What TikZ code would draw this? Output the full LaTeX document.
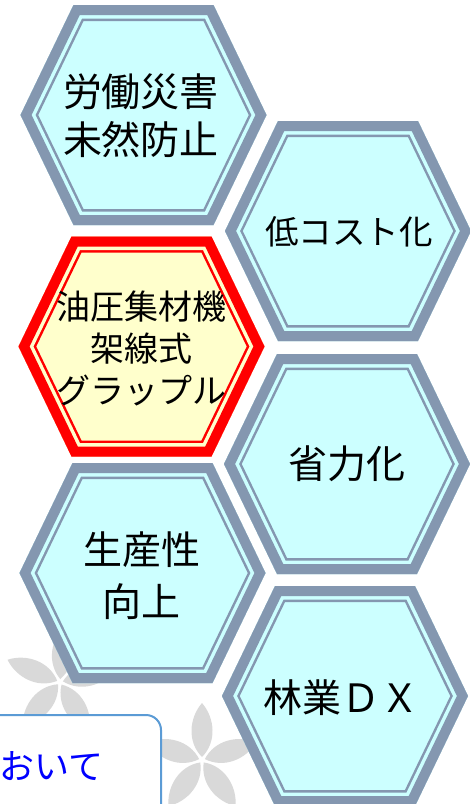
\documentclass[tikz,border=0pt]{standalone}
\usepackage{fontspec}
\newfontfamily\jp{Noto Sans CJK JP}
\definecolor{hexgray}{HTML}{8497B0}
\definecolor{hexcyan}{HTML}{CCFFFF}
\definecolor{hexred}{HTML}{FF0000}
\definecolor{hexyellow}{HTML}{FFFFCC}
\definecolor{flowergray}{HTML}{D9D9D9}
\definecolor{boxblue}{HTML}{5B9BD5}
\definecolor{textblue}{HTML}{0000FF}
\def\hexshape{(-123,0) -- (-70,-110) -- (70,-110) -- (123,0) -- (70,110) -- (-70,110) -- cycle}
\def\petalshape{(0,-3) .. controls (15,-18) and (13,-42) .. (0,-57) .. controls (-13,-42) and (-15,-18) .. (0,-3) -- cycle}
\newcommand\hexdraw[4]{% cx, cy, band colour, fill colour
  \begin{scope}[shift={(#1,#2)}]
    \begin{scope}
      \clip \hexshape;
      \fill[#4] \hexshape;
      \draw[#3, line width=32pt, line join=miter] \hexshape;
      \draw[#4, line width=27pt, line join=miter] \hexshape;
      \draw[#3, line width=20pt, line join=miter] \hexshape;
    \end{scope}
  \end{scope}}
\newcommand\flowerdraw[3]{% cx, cy, rotation
  \begin{scope}[shift={(#1,#2)}, rotate=#3]
    \foreach \a in {0,72,144,216,288}{
      \fill[flowergray, rotate=\a] \petalshape;
    }
  \end{scope}}
\tikzset{
  hextext/.style={font=\jp\fontsize{39}{48}\selectfont, align=center, inner sep=0pt, text=black},
  redtext/.style={font=\jp\fontsize{34}{42}\selectfont, align=center, inner sep=0pt, text=black},
  notebox/.style={draw=boxblue, line width=2pt, fill=white, rounded corners=15pt},
  notetext/.style={font=\jp\fontsize{35}{42}\selectfont, inner sep=0pt, text=textblue}
}
\begin{document}
\begin{tikzpicture}[x=1pt, y=-1pt]
\useasboundingbox (0,0) rectangle (470,804);
\clip (0,0) rectangle (470,804);
% background flowers
\flowerdraw{60}{682}{-5}
\flowerdraw{202}{760}{0}
% hexagons
\hexdraw{143.5}{115}{hexgray}{hexcyan}
\hexdraw{348}{231}{hexgray}{hexcyan}
\hexdraw{141.5}{346.5}{hexred}{hexyellow}
\hexdraw{347}{464}{hexgray}{hexcyan}
\hexdraw{142.5}{573}{hexgray}{hexcyan}
\hexdraw{345}{696}{hexgray}{hexcyan}
\node[hextext] (h1) at (141,116) {労働災害\\未然防止};
\node[hextext, font=\jp\fontsize{33.5}{40}\selectfont] (h2) at (349,232) {低コスト化};
\node[redtext] (h3) at (141.5,348) {油圧集材機\\架線式\\グラップル};
\node[hextext] (h4) at (347,464) {省力化};
\node[hextext, font=\jp\fontsize{39}{52}\selectfont] (h5) at (141.5,576) {生産性\\向上};
\node[hextext] (h6) at (341,698) {林業ＤＸ};
% note box
\path[notebox] (-20,715) rectangle (161,840);
\node[notetext, anchor=west] (note) at (-1,766) {おいて};
\end{tikzpicture}
\end{document}
